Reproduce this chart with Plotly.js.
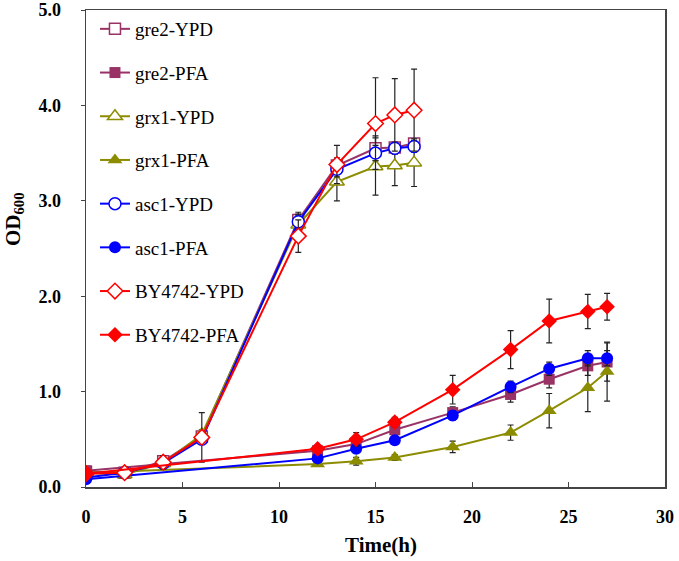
<!DOCTYPE html>
<html>
<head>
<meta charset="utf-8">
<script src="https://cdn.plot.ly/plotly-3.0.1.min.js"></script>
<style>html,body{margin:0;padding:0;background:#fff;}#chart{width:679px;height:561px;}</style>
</head>
<body>
<div id="chart"></div>
<script>
// Time points (h)
var timeYPD = [0, 2, 4, 6, 11, 13, 15, 16, 17];
var timePFA = [0, 12, 14, 16, 19, 22, 24, 26, 27];

// OD600 values
var gre2YPD = [0.16, 0.15, 0.27, 0.53, 2.80, 3.37, 3.55, 3.56, 3.60];
var gre2YPDErr = [0.02, 0.02, 0.04, 0.05, 0.08, 0.08, 0.13, 0.06, 0.05];
var gre2PFA = [0.17, 0.38, 0.45, 0.60, 0.78, 0.97, 1.13, 1.27, 1.31];
var gre2PFAErr = [0.02, 0.03, 0.05, 0.06, 0.06, 0.08, 0.09, 0.10, 0.20];

var grx1YPD = [0.15, 0.13, 0.25, 0.55, 2.75, 3.20, 3.36, 3.37, 3.40];
var grx1YPDErr = [0.02, 0.02, 0.03, 0.05, 0.10, 0.20, 0.30, 0.21, 0.25];
var grx1PFA = [0.15, 0.24, 0.27, 0.31, 0.42, 0.57, 0.80, 1.04, 1.21];
var grx1PFAErr = [0.02, 0.02, 0.04, 0.03, 0.06, 0.08, 0.18, 0.25, 0.31];

var asc1YPD = [0.10, 0.15, 0.25, 0.50, 2.78, 3.33, 3.50, 3.55, 3.57];
var asc1YPDErr = [0.02, 0.02, 0.03, 0.05, 0.08, 0.08, 0.08, 0.06, 0.06];
var asc1PFA = [0.08, 0.30, 0.40, 0.49, 0.75, 1.05, 1.24, 1.35, 1.35];
var asc1PFAErr = [0.02, 0.03, 0.03, 0.04, 0.05, 0.06, 0.07, 0.08, 0.08];

var byYPD = [0.14, 0.15, 0.26, 0.52, 2.63, 3.38, 3.81, 3.90, 3.95];
var byYPDErr = [0.02, 0.03, 0.07, 0.26, 0.17, 0.20, 0.48, 0.38, 0.43];
var byPFA = [0.14, 0.40, 0.50, 0.68, 1.02, 1.44, 1.74, 1.84, 1.89];
var byPFAErr = [0.02, 0.03, 0.07, 0.05, 0.15, 0.20, 0.23, 0.18, 0.14];

var seriesNames = ['gre2-YPD', 'gre2-PFA', 'grx1-YPD', 'grx1-PFA', 'asc1-YPD', 'asc1-PFA', 'BY4742-YPD', 'BY4742-PFA'];
var xTitle = '<b>Time(h)</b>';
var yTitle = '<b>OD<sub>600</sub></b>';

var cPurple = '#993366', cOlive = '#8c8c00', cBlue = '#0000ff', cRed = '#ff0000';

function mk(name, x, y, err, color, symbol, open, size) {
  return {
    type: 'scatter', mode: 'lines+markers', name: name, legendgroup: name,
    x: x, y: y,
    line: {color: color, width: 2},
    marker: {symbol: symbol, size: size, color: open ? '#ffffff' : color,
             line: {color: color, width: open ? 1.5 : 0}},
    error_y: {type: 'data', array: err, visible: true, color: '#222222', thickness: 1.2, width: 3}
  };
}

var data = [
  mk(seriesNames[0], timeYPD, gre2YPD, gre2YPDErr, cPurple, 'square', true, 11),
  mk(seriesNames[1], timePFA, gre2PFA, gre2PFAErr, cPurple, 'square', false, 11),
  mk(seriesNames[2], timeYPD, grx1YPD, grx1YPDErr, cOlive, 'triangle-up', true, 13),
  mk(seriesNames[3], timePFA, grx1PFA, grx1PFAErr, cOlive, 'triangle-up', false, 13),
  mk(seriesNames[4], timeYPD, asc1YPD, asc1YPDErr, cBlue, 'circle', true, 12),
  mk(seriesNames[5], timePFA, asc1PFA, asc1PFAErr, cBlue, 'circle', false, 12),
  mk(seriesNames[6], timeYPD, byYPD, byYPDErr, cRed, 'diamond', true, 12),
  mk(seriesNames[7], timePFA, byPFA, byPFAErr, cRed, 'diamond', false, 12)
];

var fontFam = '"Liberation Serif", "Times New Roman", serif';

var layout = {
  width: 679, height: 561,
  margin: {l: 86, r: 14, t: 10, b: 74},
  paper_bgcolor: '#ffffff', plot_bgcolor: '#ffffff',
  font: {family: fontFam, size: 16, color: '#000000'},
  showlegend: true,
  legend: {
    x: 0.0155, y: 1.0, xanchor: 'left', yanchor: 'top',
    bgcolor: 'rgba(255,255,255,0)', borderwidth: 0,
    traceorder: 'grouped', tracegroupgap: 16,
    font: {family: fontFam, size: 19, color: '#000000'}
  },
  xaxis: {
    range: [0, 30], dtick: 5, tick0: 0,
    showline: true, linecolor: '#444444', linewidth: 1.5, mirror: true,
    ticks: 'inside', ticklen: 5, tickcolor: '#444444',
    showgrid: false, zeroline: false,
    ticklabelstandoff: 13,
    tickfont: {family: fontFam, size: 18, color: '#000000', weight: 'bold'}
  },
  yaxis: {
    range: [0, 5], dtick: 1, tick0: 0, tickformat: '.1f',
    showline: true, linecolor: '#444444', linewidth: 1.5, mirror: true,
    ticks: 'outside', ticklen: 4, tickcolor: '#444444',
    showgrid: false, zeroline: false,
    ticklabelstandoff: 16,
    tickfont: {family: fontFam, size: 18, color: '#000000', weight: 'bold'}
  },
  annotations: [
    {text: xTitle, xref: 'paper', yref: 'paper', x: (381 - 86) / 579, y: (487 - 545) / 477,
     xanchor: 'center', yanchor: 'middle', showarrow: false,
     font: {family: fontFam, size: 21, color: '#000000'}},
    {text: yTitle, xref: 'paper', yref: 'paper', x: (14 - 86) / 579, y: (487 - 219) / 477,
     xanchor: 'center', yanchor: 'middle', showarrow: false, textangle: -90,
     font: {family: fontFam, size: 21, color: '#000000'}}
  ]
};

Plotly.newPlot('chart', data, layout, {displayModeBar: false, staticPlot: true});
</script>
</body>
</html>
